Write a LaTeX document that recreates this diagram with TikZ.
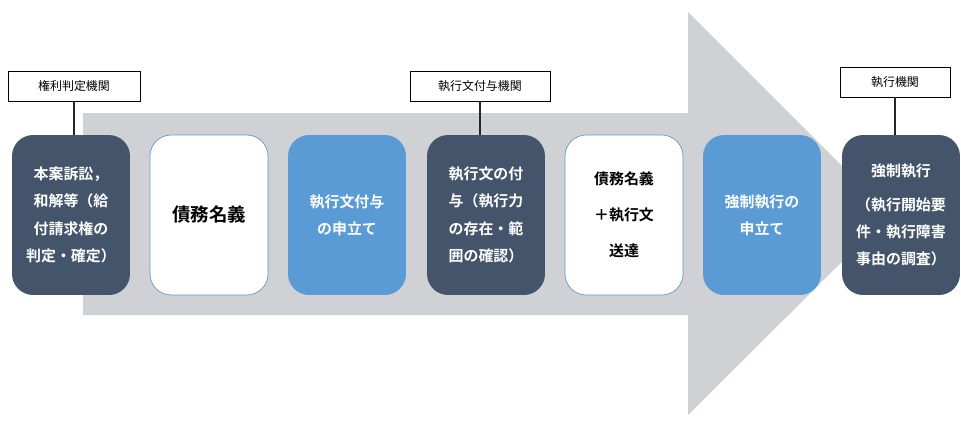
\documentclass[tikz,border=0pt]{standalone}
\usepackage{fontspec}
\setmainfont{Noto Sans CJK JP}
\newfontfamily\boldcjk{Noto Sans CJK JP Bold}
\definecolor{darkbox}{HTML}{44546A}
\definecolor{bluebox}{HTML}{5B9BD5}
\definecolor{arrowgray}{HTML}{D0D1D5}
\begin{document}
\begin{tikzpicture}[x=0.02cm,y=-0.02cm,
  stage/.style={rounded corners=12pt,minimum width=2.36cm,minimum height=3.2cm,
    align=center,font=\boldcjk\fontsize{8.5}{15.5}\selectfont},
  darkstage/.style={stage,fill=darkbox,text=white},
  bluestage/.style={stage,fill=bluebox,text=white},
  whitestage/.style={stage,fill=white,draw=bluebox,text=black},
  organ/.style={draw,fill=white,font=\fontsize{6.8}{8}\selectfont,minimum height=0.6cm,inner xsep=6pt},
  tie/.style={gray!30!black,semithick}]
	\useasboundingbox (0,0) rectangle (961,423);
	% big arrow
	\fill[arrowgray] (83,113) -- (688,113) -- (688,12) -- (890,214) -- (688,415) -- (688,315) -- (83,315) -- cycle;

	% stages
	\node[darkstage] (suit) at (71,215) {本案訴訟，\\和解等（給\\付請求権の\\判定・確定）};
	\node[whitestage,font=\boldcjk\fontsize{10.5}{12}\selectfont] (title) at (209,215) {債務名義};
	\node[bluestage] (apply) at (347,215) {執行文付与\\の申立て};
	\node[darkstage] (grant) at (486,215) {執行文の付\\与（執行力\\の存在・範\\囲の確認）};
	\node[whitestage,font=\boldcjk\fontsize{8.5}{20.5}\selectfont] (send) at (624,215) {債務名義\\＋執行文\\送達};
	\node[bluestage] (enforce) at (762,215) {強制執行の\\申立て};
	\node[darkstage] (exec) at (901,215) {強制執行\\[4pt]（執行開始要\\件・執行障害\\事由の調査）};

	% organs
	\node[organ,minimum width=2.64cm] (judge) at (74,86) {権利判定機関};
	\node[organ,minimum width=2.8cm] (clerk) at (480,86) {執行文付与機関};
	\node[organ,minimum width=2.2cm] (court) at (895,82) {執行機関};
	\draw[tie] (judge.south) -- (judge.south |- suit.north);
	\draw[tie] (clerk.south) -- (clerk.south |- grant.north);
	\draw[tie] (court.south) -- (court.south |- exec.north);
\end{tikzpicture}
\end{document}
